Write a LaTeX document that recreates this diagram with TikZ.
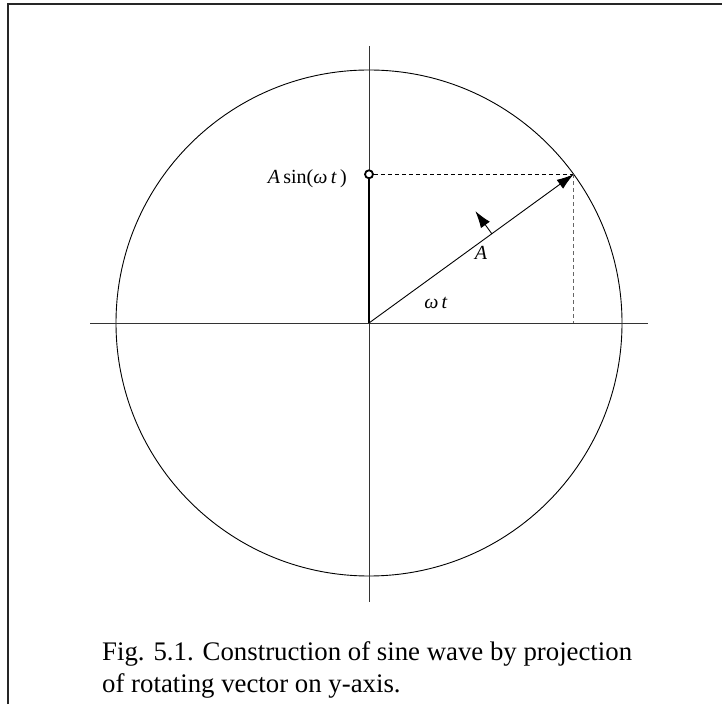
\documentclass[tikz,border=0pt]{standalone}
\usepackage{fontspec}
\setmainfont{Liberation Serif}
\usetikzlibrary{arrows.meta, calc}

\begin{document}
\begin{tikzpicture}[x=1pt, y=1pt,
    axis/.style={draw=black!80, line width=0.9pt},
    orbit/.style={draw, line width=0.9pt},
    proj/.style={line width=0.9pt, dash pattern=on 4pt off 3pt},
    vec/.style={-{Latex[length=17pt, width=11pt]}, line width=0.9pt},
    lbl/.style={font=\fontsize{20}{24}\selectfont, inner sep=0pt},
    caption/.style={font=\fontsize{26.8}{32}\selectfont, align=left, inner sep=0pt}
]
\useasboundingbox (0,0) rectangle (722,704);
% Page frame
\draw[line width=1.4pt, black!85] (8,0) -- (8,700) -- (722,700);
% Key points
\coordinate (O) at (369,381);
\coordinate (P) at ($(O)+(36:253)$);
\coordinate (Py) at (O |- P);
\coordinate (Px) at (P |- O);
\coordinate (xl) at (90,381);
\coordinate (xr) at (648,381);
\coordinate (yt) at (369,658);
\coordinate (yb) at (369,102);
% Circle and axes
\draw[orbit] (O) circle (253);
\draw[axis] (xl) -- (xr);
\draw[axis] (yt) -- (yb);
% Projection on y-axis
\node[circle, draw, line width=1.8pt, fill=white, minimum size=8pt, inner sep=0pt] (dot) at (Py) {};
\draw[line width=2.8pt] (O) -- (dot.south);
\draw[proj] (dot.east) -- (P);
\draw[proj, black!60] (P) -- (Px);
% Rotating vector
\draw[vec] (O) -- (P);
\coordinate (R) at ($(O)!0.6!(P)$);
\coordinate (Rt) at ($(R)+(126:28)$);
\draw[vec] (R) -- (Rt);
% Labels
\node[lbl, anchor=east] (lsin) at ($(Py)+(-22,-4)$) {\textit{A}\,sin(\textit{ω}\,\textit{t}\,)};
\node[lbl] (lamp) at (481,451) {\textit{A}};
\node[lbl] (lang) at (436,401) {\textit{ω}\,\textit{t}};
% Caption
\node[caption, anchor=north west] (cap) at (102,63) {Fig. 5.1. Construction of sine wave by projection\\of rotating vector on y-axis.};
\end{tikzpicture}
\end{document}
